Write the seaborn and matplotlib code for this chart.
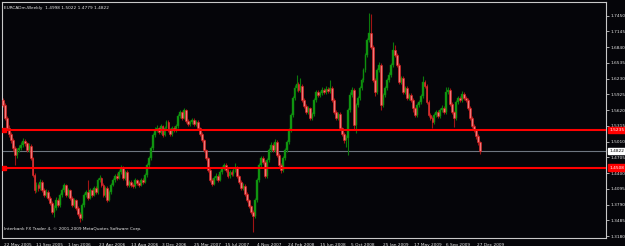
import numpy as np
import pandas as pd
import seaborn as sns
import matplotlib
matplotlib.use("Agg")
import matplotlib.pyplot as plt
from matplotlib.transforms import ScaledTranslation

# ---------------- data (weekly EURCAD, 22 May 2005 .. Jan 2010) ----------------
opens = [
1.5816,1.5719,1.5467,1.5273,1.5157,1.5041,1.4886,1.4750,1.4847,1.4886,
1.4944,1.5022,1.4983,1.4847,1.4925,1.4692,1.4363,1.4072,1.4169,1.4111,
1.4227,1.4072,1.3975,1.4033,1.3917,1.3820,1.3646,1.3723,1.3878,1.3781,
1.3975,1.4072,1.4169,1.3975,1.4072,1.3917,1.3781,1.3878,1.3723,1.3607,
1.3529,1.3781,1.3975,1.4033,1.3917,1.4072,1.3975,1.4111,1.4033,1.4266,
1.4304,1.4169,1.3975,1.4111,1.3878,1.4033,1.4169,1.4266,1.4343,1.4304,
1.4421,1.4498,1.4304,1.4421,1.4169,1.4227,1.4169,1.4149,1.4266,1.4208,
1.4169,1.4266,1.4227,1.4363,1.4557,1.4692,1.4886,1.5138,1.5235,1.5273,
1.5196,1.5312,1.5138,1.5273,1.5390,1.5235,1.5157,1.5273,1.5235,1.5312,
1.5506,1.5584,1.5467,1.5622,1.5409,1.5351,1.5390,1.5428,1.5351,1.5390,
1.5273,1.5157,1.5041,1.4847,1.4692,1.4460,1.4266,1.4188,1.4304,1.4343,
1.4266,1.4421,1.4498,1.4557,1.4460,1.4343,1.4421,1.4382,1.4460,1.4498,
1.4343,1.4227,1.4111,1.4149,1.3994,1.3878,1.3762,1.3646,1.3568,1.3878,
1.4266,1.4557,1.4692,1.4615,1.4343,1.4654,1.4847,1.4944,1.4847,1.5002,
1.4750,1.4557,1.4460,1.4692,1.4847,1.5002,1.5235,1.5525,1.5855,1.6049,
1.6126,1.6010,1.6087,1.5816,1.5700,1.5584,1.5661,1.5467,1.5545,1.5816,
1.5971,1.5913,1.5952,1.6010,1.5971,1.6029,1.5990,1.6049,1.5816,1.5584,
1.5467,1.5545,1.5273,1.5157,1.5041,1.5080,1.5622,1.5913,1.6010,1.5332,
1.5719,1.5855,1.6049,1.6204,1.6397,1.6688,1.6979,1.7114,1.6843,1.6204,
1.5971,1.6397,1.6494,1.5719,1.5913,1.6049,1.6204,1.6300,1.6494,1.6785,
1.6688,1.6494,1.6165,1.6242,1.5971,1.6049,1.5855,1.5913,1.5816,1.5661,
1.5525,1.5719,1.5777,1.5894,1.6165,1.6087,1.5777,1.5525,1.5467,1.5390,
1.5525,1.5584,1.5506,1.5622,1.5661,1.5584,1.5971,1.6010,1.5738,1.5584,
1.5467,1.5777,1.5855,1.5816,1.5932,1.5855,1.5816,1.5661,1.5467,1.5312,
1.5235,1.5118,1.4998]
highs = [
1.5855,1.5758,1.5500,1.5330,1.5200,1.5080,1.4930,1.4890,1.4950,1.5000,
1.5080,1.5060,1.5010,1.4990,1.4960,1.4720,1.4400,1.4230,1.4210,1.4290,
1.4260,1.4110,1.4090,1.4070,1.3950,1.3860,1.3780,1.3930,1.3920,1.4020,
1.4120,1.4208,1.4190,1.4110,1.4100,1.3950,1.3920,1.3900,1.3760,1.3640,
1.3820,1.4010,1.4080,1.4266,1.4110,1.4100,1.4150,1.4140,1.4310,1.4360,
1.4330,1.4200,1.4150,1.4140,1.4070,1.4210,1.4310,1.4380,1.4400,1.4460,
1.4560,1.4530,1.4460,1.4450,1.4270,1.4260,1.4210,1.4300,1.4290,1.4240,
1.4300,1.4300,1.4400,1.4600,1.4730,1.4930,1.5180,1.5290,1.5330,1.5300,
1.5360,1.5340,1.5310,1.5428,1.5420,1.5270,1.5310,1.5320,1.5350,1.5540,
1.5620,1.5610,1.5661,1.5650,1.5440,1.5430,1.5470,1.5460,1.5430,1.5420,
1.5300,1.5190,1.5070,1.4870,1.4720,1.4490,1.4300,1.4350,1.4400,1.4380,
1.4460,1.4540,1.4600,1.4590,1.4490,1.4460,1.4450,1.4500,1.4595,1.4530,
1.4370,1.4260,1.4200,1.4180,1.4030,1.3900,1.3790,1.3680,1.3920,1.4300,
1.4600,1.4740,1.4730,1.4650,1.4690,1.4890,1.5000,1.4980,1.5060,1.5040,
1.4780,1.4590,1.4730,1.4890,1.5050,1.5280,1.5570,1.5900,1.6100,1.6300,
1.6160,1.6240,1.6120,1.5850,1.5730,1.5700,1.5690,1.5590,1.5860,1.6010,
1.6010,1.6000,1.6060,1.6040,1.6080,1.6060,1.6204,1.6080,1.5850,1.5620,
1.5590,1.5580,1.5300,1.5190,1.5130,1.5660,1.5970,1.6068,1.6050,1.5760,
1.5900,1.6090,1.6250,1.6440,1.6730,1.7020,1.7502,1.7480,1.6880,1.6240,
1.6440,1.6560,1.6530,1.5950,1.6090,1.6240,1.6350,1.6530,1.6940,1.6882,
1.6720,1.6530,1.6290,1.6280,1.6090,1.6080,1.5960,1.5950,1.5850,1.5690,
1.5760,1.5820,1.5940,1.6281,1.6210,1.6120,1.5810,1.5560,1.5500,1.5570,
1.5630,1.5620,1.5670,1.5710,1.5700,1.6068,1.6068,1.6050,1.5770,1.5610,
1.5820,1.5900,1.5900,1.5990,1.5970,1.5900,1.5850,1.5700,1.5500,1.5350,
1.5260,1.5150,1.5022]
lows = [
1.5680,1.5420,1.5230,1.5100,1.4990,1.4820,1.4557,1.4700,1.4800,1.4840,
1.4900,1.4930,1.4800,1.4810,1.4650,1.4320,1.4020,1.4030,1.4060,1.4080,
1.4030,1.3930,1.3940,1.3870,1.3780,1.3600,1.3549,1.3690,1.3740,1.3750,
1.3940,1.4030,1.3930,1.3940,1.3880,1.3740,1.3750,1.3680,1.3570,1.3452,
1.3500,1.3750,1.3940,1.3880,1.3890,1.3940,1.3950,1.3990,1.4000,1.4230,
1.4130,1.3930,1.3940,1.3840,1.3850,1.4000,1.4140,1.4230,1.4270,1.4280,
1.4390,1.4260,1.4270,1.4130,1.4130,1.4130,1.4110,1.4120,1.4170,1.4130,
1.4140,1.4190,1.4200,1.4330,1.4520,1.4660,1.4850,1.5100,1.5190,1.5150,
1.5160,1.5100,1.5110,1.5240,1.5200,1.5110,1.5120,1.5200,1.5200,1.5280,
1.5470,1.5430,1.5440,1.5370,1.5310,1.5320,1.5360,1.5320,1.5320,1.5240,
1.5120,1.5000,1.4800,1.4650,1.4420,1.4220,1.4150,1.4160,1.4270,1.4220,
1.4240,1.4390,1.4460,1.4420,1.4300,1.4310,1.4340,1.4350,1.4420,1.4300,
1.4190,1.4070,1.4070,1.3950,1.3840,1.3720,1.3600,1.3258,1.3520,1.3840,
1.4230,1.4520,1.4570,1.4300,1.4310,1.4620,1.4810,1.4800,1.4810,1.4710,
1.4510,1.4410,1.4430,1.4660,1.4810,1.4970,1.5200,1.5490,1.5820,1.6000,
1.5970,1.5970,1.5780,1.5660,1.5540,1.5550,1.5420,1.5430,1.5510,1.5780,
1.5870,1.5880,1.5920,1.5930,1.5940,1.5950,1.5960,1.5780,1.5540,1.5420,
1.5430,1.5230,1.5110,1.4990,1.4905,1.4750,1.5580,1.5870,1.5235,1.5177,
1.5680,1.5820,1.6010,1.6170,1.6360,1.6650,1.6940,1.6800,1.6160,1.5900,
1.5940,1.6360,1.5622,1.5680,1.5880,1.6010,1.6170,1.6260,1.6450,1.6640,
1.6450,1.6120,1.6130,1.5930,1.5940,1.5810,1.5820,1.5780,1.5584,1.5480,
1.5490,1.5680,1.5740,1.5860,1.6040,1.5740,1.5480,1.5420,1.5273,1.5350,
1.5490,1.5460,1.5470,1.5590,1.5540,1.5550,1.5930,1.5700,1.5540,1.5293,
1.5430,1.5740,1.5780,1.5780,1.5810,1.5770,1.5620,1.5420,1.5270,1.5190,
1.5060,1.4950,1.4779]
closes = [
1.5719,1.5467,1.5273,1.5157,1.5041,1.4886,1.4750,1.4847,1.4886,1.4944,
1.5022,1.4983,1.4847,1.4925,1.4692,1.4363,1.4072,1.4169,1.4111,1.4227,
1.4072,1.3975,1.4033,1.3917,1.3820,1.3646,1.3723,1.3878,1.3781,1.3975,
1.4072,1.4169,1.3975,1.4072,1.3917,1.3781,1.3878,1.3723,1.3607,1.3529,
1.3781,1.3975,1.4033,1.3917,1.4072,1.3975,1.4111,1.4033,1.4266,1.4304,
1.4169,1.3975,1.4111,1.3878,1.4033,1.4169,1.4266,1.4343,1.4304,1.4421,
1.4498,1.4304,1.4421,1.4169,1.4227,1.4169,1.4149,1.4266,1.4208,1.4169,
1.4266,1.4227,1.4363,1.4557,1.4692,1.4886,1.5138,1.5235,1.5273,1.5196,
1.5312,1.5138,1.5273,1.5390,1.5235,1.5157,1.5273,1.5235,1.5312,1.5506,
1.5584,1.5467,1.5622,1.5409,1.5351,1.5390,1.5428,1.5351,1.5390,1.5273,
1.5157,1.5041,1.4847,1.4692,1.4460,1.4266,1.4188,1.4304,1.4343,1.4266,
1.4421,1.4498,1.4557,1.4460,1.4343,1.4421,1.4382,1.4460,1.4498,1.4343,
1.4227,1.4111,1.4149,1.3994,1.3878,1.3762,1.3646,1.3568,1.3878,1.4266,
1.4557,1.4692,1.4615,1.4343,1.4654,1.4847,1.4944,1.4847,1.5002,1.4750,
1.4557,1.4460,1.4692,1.4847,1.5002,1.5235,1.5525,1.5855,1.6049,1.6126,
1.6010,1.6087,1.5816,1.5700,1.5584,1.5661,1.5467,1.5545,1.5816,1.5971,
1.5913,1.5952,1.6010,1.5971,1.6029,1.5990,1.6049,1.5816,1.5584,1.5467,
1.5545,1.5273,1.5157,1.5041,1.5080,1.5622,1.5913,1.6010,1.5332,1.5719,
1.5855,1.6049,1.6204,1.6397,1.6688,1.6979,1.7114,1.6843,1.6204,1.5971,
1.6397,1.6494,1.5719,1.5913,1.6049,1.6204,1.6300,1.6494,1.6785,1.6688,
1.6494,1.6165,1.6242,1.5971,1.6049,1.5855,1.5913,1.5816,1.5661,1.5525,
1.5719,1.5777,1.5894,1.6165,1.6087,1.5777,1.5525,1.5467,1.5390,1.5525,
1.5584,1.5506,1.5622,1.5661,1.5584,1.5971,1.6010,1.5738,1.5584,1.5467,
1.5777,1.5855,1.5816,1.5932,1.5855,1.5816,1.5661,1.5467,1.5312,1.5235,
1.5118,1.4998,1.4822]

date_labels = ["22 May 2005", "11 Sep 2005", "1 Jan 2006", "23 Apr 2006",
               "13 Aug 2006", "3 Dec 2006", "25 Mar 2007", "15 Jul 2007",
               "4 Nov 2007", "24 Feb 2008", "15 Jun 2008", "5 Oct 2008",
               "25 Jan 2009", "17 May 2009", "6 Sep 2009", "27 Dec 2009"]
price_ticks = [1.7450, 1.7145, 1.6840, 1.6535, 1.6230, 1.5925, 1.5620, 1.5315,
               1.5010, 1.4705, 1.4400, 1.4095, 1.3790, 1.3485, 1.3180]
level_lines = [1.5235, 1.4508]
bid_price = 1.4822
title_text = "EURCADm,Weekly  1.4998 1.5022 1.4779 1.4822"
copyright_text = "Interbank FX Trader 4, \u00a9 2001-2009 MetaQuotes Software Corp."

# ---------------- frame ----------------
df = pd.DataFrame({"open": opens, "high": highs, "low": lows, "close": closes})
df["date"] = pd.date_range("2005-05-22", periods=len(df), freq="7D")
df["idx"] = np.arange(len(df))
df["bull"] = df["close"] >= df["open"]

BG = "#050509"
FS = 3.1
sns.set_theme(style="dark", rc={"axes.facecolor": BG, "figure.facecolor": BG,
                                "axes.edgecolor": "#c8c8c8", "grid.color": BG})
plt.rcParams["font.family"] = ["DejaVu Sans"]

fig = plt.figure(figsize=(6.25, 2.46), dpi=100)
ax = fig.add_axes([2 / 625, 8 / 246, 604 / 625, 236 / 246])
ax.set_facecolor(BG)

bull = df[df["bull"]]
bear = df[~df["bull"]]
# wicks
ax.vlines(bull["idx"], bull["low"], bull["high"], color="#0b7a0b", lw=0.8, zorder=2)
ax.vlines(bear["idx"], bear["low"], bear["high"], color="#a01414", lw=0.8, zorder=2)
# bodies
ax.bar(bull["idx"], (bull["close"] - bull["open"]).clip(lower=0.0008), bottom=bull["open"],
       width=0.95, color="#129a12", edgecolor="#0a800a", linewidth=0.3, zorder=3)
ax.bar(bear["idx"], (bear["open"] - bear["close"]).clip(lower=0.0008), bottom=bear["close"],
       width=0.95, color="#f07a7a", edgecolor="#e01818", linewidth=0.4, zorder=3)

ymin, ymax = 1.3142, 1.7715
ax.set_ylim(ymin, ymax)
ax.set_xlim(-0.5, 306.1)

# horizontal levels
for lv in level_lines:
    ax.axhline(lv, color="#ff0000", lw=1.5, zorder=4)
    ax.plot([0.3], [lv], marker="s", ms=2.5, color="#ff0000", zorder=5)
ax.axhline(bid_price, color="#6e7680", lw=0.8, zorder=1)

# axes styling
for s in ax.spines.values():
    s.set_color("#c8c8c8")
    s.set_linewidth(0.8)
ax.grid(False)
ax.yaxis.tick_right()
ax.set_yticks(price_ticks)
ax.set_yticklabels([f"{p:.4f}" for p in price_ticks])
ax.tick_params(axis="y", direction="out", length=2.5, width=0.6, colors="#c8c8c8",
               labelsize=FS, pad=1.0, labelcolor="#e8e8e8")
tick_idx = list(range(0, 16 * len(date_labels), 16))
ax.set_xticks(tick_idx)
ax.set_xticklabels(date_labels)
ax.tick_params(axis="x", direction="out", length=3, width=0.6, colors="#c8c8c8",
               labelsize=FS, pad=0.3, labelcolor="#e8e8e8")
off = ScaledTranslation(1.5 / 100, 0, fig.dpi_scale_trans)
for lab in ax.get_xticklabels():
    lab.set_horizontalalignment("left")
    lab.set_transform(lab.get_transform() + off)

# price boxes on the right
for lv in level_lines:
    ax.annotate(f"{lv:.4f}", xy=(1.0, lv), xycoords=("axes fraction", "data"),
                xytext=(2.2, 0), textcoords="offset points", fontsize=FS, color="white",
                va="center", ha="left", zorder=6, annotation_clip=False,
                bbox=dict(boxstyle="square,pad=0.25", fc="#ff0000", ec="#ff0000"))
ax.annotate(f"{bid_price:.4f}", xy=(1.0, bid_price), xycoords=("axes fraction", "data"),
            xytext=(2.2, 0), textcoords="offset points", fontsize=FS, color="black",
            va="center", ha="left", zorder=6, annotation_clip=False,
            bbox=dict(boxstyle="square,pad=0.25", fc="white", ec="white"))

# header / footer texts
ax.text(0.004, 0.985, title_text, transform=ax.transAxes, fontsize=FS,
        color="#e8e8e8", va="top", ha="left")
ax.text(0.003, 0.03, copyright_text, transform=ax.transAxes, fontsize=FS,
        color="#e8e8e8", va="bottom", ha="left")

fig.savefig("out.png", dpi=100, facecolor=BG)
